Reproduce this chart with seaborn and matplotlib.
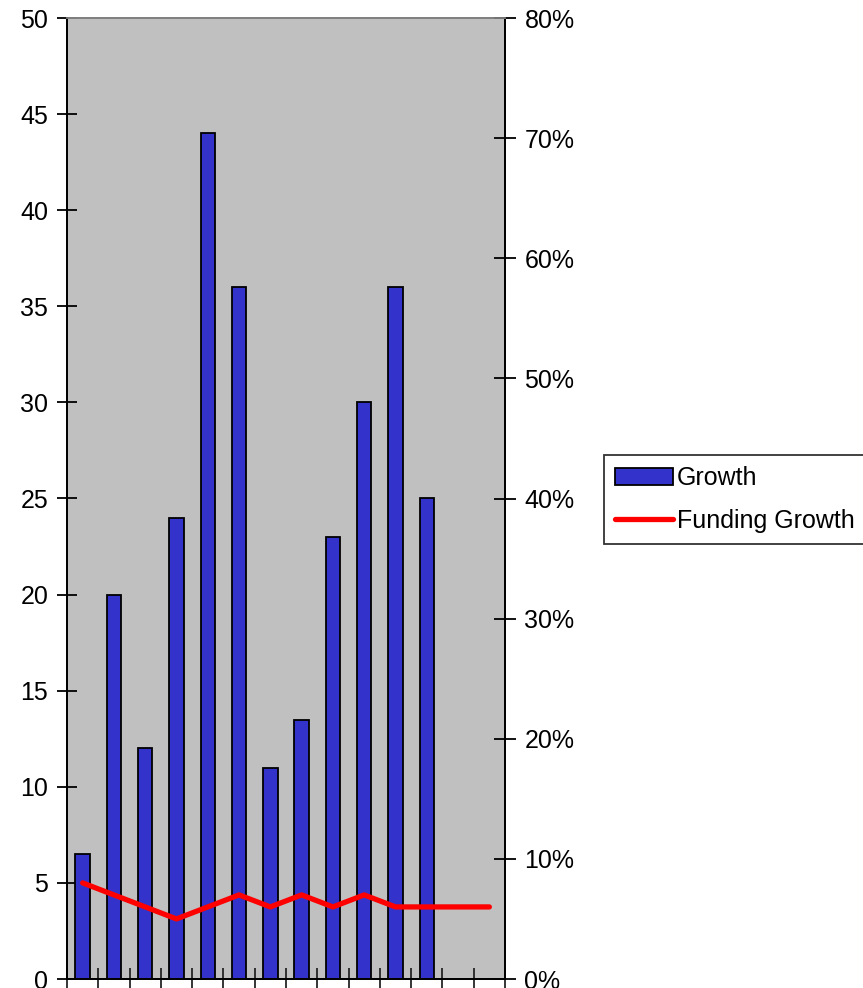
import matplotlib
matplotlib.use("Agg")
import matplotlib.pyplot as plt
from matplotlib.ticker import FixedLocator, NullFormatter, PercentFormatter
import seaborn as sns
import pandas as pd
import numpy as np

# Periods (unlabelled on the chart)
periods = [f"P{i}" for i in range(1, 15)]
# Growth per period (left axis); the last two periods have no bar
growth = [6.5, 20, 12, 24, 44, 36, 11, 13.5, 23, 30, 36, 25]
# Funding growth per period, in percent (right axis)
funding_growth = [8, 7, 6, 5, 6, 7, 6, 7, 6, 7, 6, 6, 6, 6]

sns.set_theme(style="white")
plt.rcParams["font.family"] = ["Liberation Sans", "DejaVu Sans"]
plt.rcParams["text.color"] = "black"

bar_color = "#3333CC"
line_color = "#FF0000"

fig = plt.figure(figsize=(8.63, 9.88), dpi=100)
ax = fig.add_axes([67 / 863, 1 - 979 / 988, (505 - 67) / 863, (979 - 18) / 988])
ax.set_facecolor("#C0C0C0")

bars_df = pd.DataFrame({"period": periods[:len(growth)], "growth": growth})
sns.barplot(data=bars_df, x="period", y="growth", order=periods, color=bar_color,
            saturation=1, width=0.46, edgecolor="black", linewidth=1.3,
            ax=ax, label="Growth", legend=False)
if ax.get_legend() is not None:
    ax.get_legend().remove()

ax2 = ax.twinx()
line_df = pd.DataFrame({"pos": np.arange(len(periods)), "funding": funding_growth})
sns.lineplot(data=line_df, x="pos", y="funding", color=line_color, linewidth=3.8,
             ax=ax2, label="Funding Growth", legend=False,
             solid_capstyle="round", solid_joinstyle="round")

ax.set_xlim(-0.5, len(periods) - 0.5)
ax.set_ylim(0, 50)
ax2.set_ylim(0, 80)
ax.set_yticks(np.arange(0, 51, 5))
ax2.set_yticks(np.arange(0, 81, 10))
ax2.yaxis.set_major_formatter(PercentFormatter(decimals=0))

# Category boundaries carry the x ticks
ax.xaxis.set_major_locator(FixedLocator(np.arange(-0.5, len(periods), 1.0)))
ax.xaxis.set_major_formatter(NullFormatter())
ax.set_xlabel("")
ax.set_ylabel("")
ax2.set_xlabel("")
ax2.set_ylabel("")

ax.tick_params(axis="y", direction="inout", length=15, width=1.3, labelsize=18,
               pad=6, colors="black", left=True)
ax.tick_params(axis="x", direction="inout", length=16, width=1.3, bottom=True)
ax2.tick_params(axis="y", direction="inout", length=16, width=1.3, labelsize=18,
                pad=6, colors="black", right=True)

for a in (ax, ax2):
    for side in ("left", "right", "bottom"):
        a.spines[side].set_color("black")
        a.spines[side].set_linewidth(1.3)
    a.spines["top"].set_color("#808080")
    a.spines["top"].set_linewidth(1.3)

bar_handle = ax.patches[0]
line_handle = ax2.get_lines()[0]
leg = fig.legend([bar_handle, line_handle], ["Growth", "Funding Growth"],
                 loc="upper left", bbox_to_anchor=(604 / 863, 1 - 455 / 988),
                 frameon=True, fancybox=False, shadow=False, fontsize=18,
                 handlelength=2.3, handletextpad=0.15, borderpad=0.45,
                 borderaxespad=0, labelspacing=0.75)
leg.get_frame().set_edgecolor("black")
leg.get_frame().set_linewidth(1.3)
for t in leg.get_texts():
    t.set_color("black")

fig.savefig("out.png", dpi=100)
